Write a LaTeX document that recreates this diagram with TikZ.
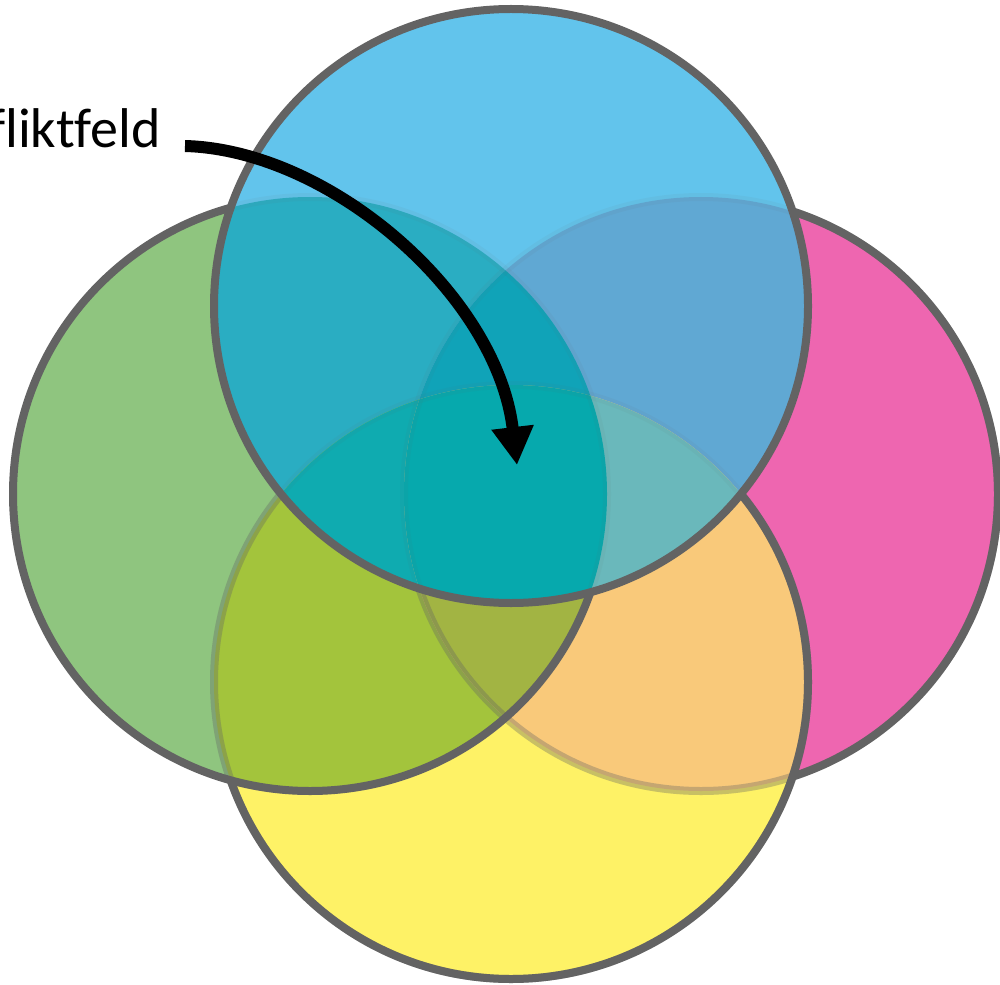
\documentclass[tikz,border=0pt]{standalone}
\usepackage{fontspec}
\setmainfont{Carlito}[Ligatures={NoCommon}]
\usetikzlibrary{arrows.meta}
\definecolor{cB}{HTML}{62C4EC}
\definecolor{cG}{HTML}{8FC57F}
\definecolor{cM}{HTML}{EE66B0}
\definecolor{cY}{HTML}{FEF266}
\definecolor{cGB}{HTML}{2AADC2}
\definecolor{cBM}{HTML}{60A8D3}
\definecolor{cGY}{HTML}{A3C43C}
\definecolor{cMY}{HTML}{F9C97A}
\definecolor{cGBY}{HTML}{0FABB0}
\definecolor{cGBM}{HTML}{10A3B8}
\definecolor{cGYM}{HTML}{A2B443}
\definecolor{cBYM}{HTML}{6AB8BB}
\definecolor{cAll}{HTML}{06A9AD}
\definecolor{rim}{HTML}{636363}
\tikzset{
  rimline/.style={draw=rim, line width=8pt},
  arrowline/.style={draw=black, line width=12pt, -{Triangle[width=40pt,length=38pt]}},
  lbltext/.style={font=\fontsize{56}{60}\selectfont, inner sep=0pt, anchor=base east}
}
\begin{document}
\begin{tikzpicture}[x=1pt,y=-1pt]
\useasboundingbox (0,0) rectangle (1000,984);
\coordinate (cenB) at (511,306);
\coordinate (cenG) at (310,494);
\coordinate (cenM) at (701,494);
\coordinate (cenY) at (511,682);
\def\CB{(cenB) circle[radius=297pt]}
\def\CG{(cenG) circle[radius=297pt]}
\def\CM{(cenM) circle[radius=297pt]}
\def\CY{(cenY) circle[radius=297pt]}
\def\BIG{(-100,-100) rectangle (1100,1100)}
% single fills
\fill[cM] \CM;
\fill[cY] \CY;
\fill[cG] \CG;
\fill[cB] \CB;
% pairs
\begin{scope}\clip \CG; \fill[cGB] \CB; \end{scope}
\begin{scope}\clip \CB; \fill[cBM] \CM; \end{scope}
\begin{scope}\clip \CG; \fill[cGY] \CY; \end{scope}
\begin{scope}\clip \CM; \fill[cMY] \CY; \end{scope}
% triples
\begin{scope}\clip \CG; \clip \CB; \fill[cGBY] \CY; \end{scope}
\begin{scope}\clip \CG; \clip \CB; \fill[cGBM] \CM; \end{scope}
\begin{scope}\clip \CG; \clip \CY; \fill[cGYM] \CM; \end{scope}
\begin{scope}\clip \CB; \clip \CY; \fill[cBYM] \CM; \end{scope}
% all four
\begin{scope}\clip \CG; \clip \CB; \clip \CY; \fill[cAll] \CM; \end{scope}
% outlines (order bottom to top: M, Y, G, B)
\draw[rimline, draw opacity=0.06] \CM;
\draw[rimline, draw opacity=0.06] \CY;
\draw[rimline, draw opacity=0.06] \CG;
\begin{scope}[even odd rule]
  \clip \BIG \CB;
  \draw[rimline, draw opacity=0.3] \CM;
  \draw[rimline, draw opacity=0.3] \CY;
  \draw[rimline] \CG;
  \begin{scope}[even odd rule]
    \clip \BIG \CG;
    \draw[rimline] \CY;
    \begin{scope}[even odd rule]
      \clip \BIG \CY;
      \draw[rimline] \CM;
    \end{scope}
  \end{scope}
\end{scope}
\draw[rimline] \CB;
% label and arrow
\node[lbltext] (lbl) at (161,148) {fliktfeld};
\coordinate (start) at (185,146);
\coordinate (tip) at (517,465);
\draw[arrowline] (start) .. controls (330,150) and (497,295) .. (tip);
\end{tikzpicture}
\end{document}
